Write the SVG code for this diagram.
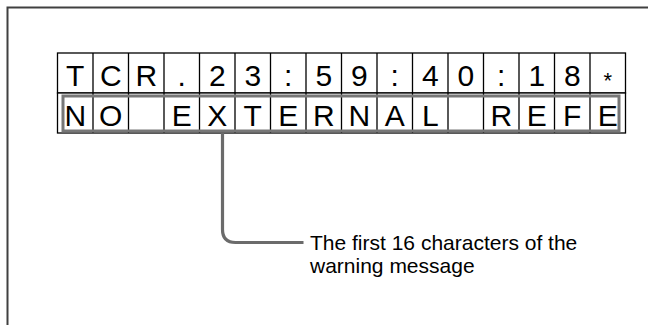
<svg xmlns="http://www.w3.org/2000/svg" width="648" height="325" viewBox="0 0 648 325">
<style>
.frame{fill:none;stroke:#404040;stroke-width:2}
.cell{fill:#fff;stroke:#000;stroke-width:1.3}
.div{stroke:#000;stroke-width:1.3}
.hl{fill:none;stroke:#777;stroke-width:3}
.ch{font-family:"Liberation Sans",Arial,sans-serif;font-size:30px;fill:#000;text-anchor:middle}
.ast{font-family:"Liberation Sans",Arial,sans-serif;font-size:22px;fill:#000;text-anchor:middle}
.lbl{font-family:"Liberation Sans",Arial,sans-serif;font-size:21px;fill:#000}
.conn{fill:none;stroke:#6b6b6b;stroke-width:3.2}
</style>
<rect width="648" height="325" fill="#fff"/>
<path class="frame" d="M7.5,325 V7.5 H648"/>
<g id="row1">
<rect class="cell" x="57.5" y="53" width="568" height="40"/>
<path class="div" d="M93,53V93M128.5,53V93M164,53V93M199.5,53V93M235,53V93M270.5,53V93M306,53V93M341.5,53V93M377,53V93M412.5,53V93M448,53V93M483.5,53V93M519,53V93M554.5,53V93M590,53V93"/>
<text class="ch" x="75.25" y="85.5">T</text>
<text class="ch" x="110.75" y="85.5">C</text>
<text class="ch" x="146.25" y="85.5">R</text>
<text class="ch" x="181.75" y="85.5">.</text>
<text class="ch" x="217.25" y="85.5">2</text>
<text class="ch" x="252.75" y="85.5">3</text>
<text class="ch" x="288.25" y="85.5">:</text>
<text class="ch" x="323.75" y="85.5">5</text>
<text class="ch" x="359.25" y="85.5">9</text>
<text class="ch" x="394.75" y="85.5">:</text>
<text class="ch" x="430.25" y="85.5">4</text>
<text class="ch" x="465.75" y="85.5">0</text>
<text class="ch" x="501.25" y="85.5">:</text>
<text class="ch" x="536.75" y="85.5">1</text>
<text class="ch" x="572.25" y="85.5">8</text>
<text class="ast" x="607.75" y="88">*</text>
</g>
<g id="row2">
<rect class="cell" x="57.5" y="93" width="568" height="40"/>
<path class="div" d="M93,93V133M128.5,93V133M164,93V133M199.5,93V133M235,93V133M270.5,93V133M306,93V133M341.5,93V133M377,93V133M412.5,93V133M448,93V133M483.5,93V133M519,93V133M554.5,93V133M590,93V133"/>
<rect class="hl" x="63" y="96" width="556" height="35"/>
<text class="ch" x="75.25" y="126">N</text>
<text class="ch" x="110.75" y="126">O</text>
<text class="ch" x="181.75" y="126">E</text>
<text class="ch" x="217.25" y="126">X</text>
<text class="ch" x="252.75" y="126">T</text>
<text class="ch" x="288.25" y="126">E</text>
<text class="ch" x="323.75" y="126">R</text>
<text class="ch" x="359.25" y="126">N</text>
<text class="ch" x="394.75" y="126">A</text>
<text class="ch" x="430.25" y="126">L</text>
<text class="ch" x="501.25" y="126">R</text>
<text class="ch" x="536.75" y="126">E</text>
<text class="ch" x="572.25" y="126">F</text>
<text class="ch" x="607.75" y="126">E</text>
</g>
<g id="connectors">
<path class="conn" d="M222.5,133 V229.5 Q222.5,242.5 235.5,242.5 H303.5"/>
</g>
<g id="label">
<text class="lbl" x="310" y="249.5">The first 16 characters of the</text>
<text class="lbl" x="310" y="272.5">warning message</text>
</g>
</svg>
